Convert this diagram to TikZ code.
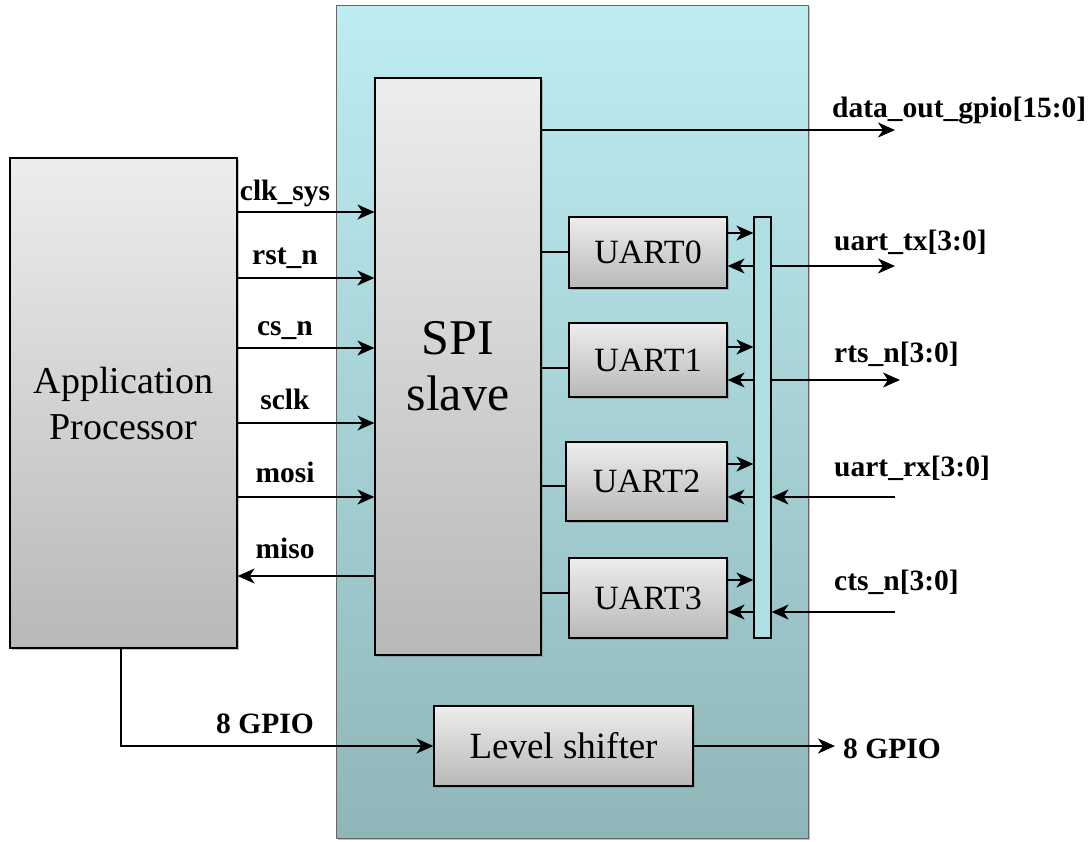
\documentclass[tikz,border=0pt]{standalone}
\usepackage{fontspec}
\setmainfont{Liberation Serif}
\usetikzlibrary{arrows.meta,shadows}
\definecolor{cyTop}{HTML}{BDEDF1}
\definecolor{cyBot}{HTML}{8FB6B9}
\definecolor{gyTop}{HTML}{EDEDED}
\definecolor{gyBot}{HTML}{B8B8B8}
\definecolor{barfill}{HTML}{AEDFE3}
\tikzset{
 blk/.style={draw=black, line width=1.2pt, top color=gyTop, bottom color=gyBot,
   drop shadow={shadow xshift=2pt, shadow yshift=-2pt, opacity=.45, fill=gray},
   inner sep=0pt, align=center},
 sig/.style={line width=1.5pt, -{Stealth[length=17pt,width=15pt,inset=5pt]}},
 wire/.style={line width=1.5pt},
 lbl/.style={font=\fontsize{29.5}{31}\selectfont\bfseries, inner sep=0pt},
}
\begin{document}
\begin{tikzpicture}[x=1pt,y=-1pt]
\useasboundingbox[fill=white] (0,0) rectangle (1091,841);
% background module
\node[draw=gray!80!black, line width=0.8pt, top color=cyTop, bottom color=cyBot,
  minimum width=472pt, minimum height=833pt, inner sep=0pt,
  drop shadow={shadow xshift=2pt, shadow yshift=-2pt, opacity=.5, fill=gray}] (bg) at (572,421.5) {};
% blocks
\node[blk, minimum width=227pt, minimum height=490pt, font=\fontsize{38}{46}\selectfont] (ap) at (123.5,403) {Application\\Processor};
\node[blk, minimum width=166pt, minimum height=577pt, font=\fontsize{50}{56}\selectfont] (spi) at (458,366.5) {SPI\\slave};
\node[blk, minimum width=158pt, minimum height=71pt, font=\fontsize{34}{40}\selectfont] (u0) at (648,252.5) {UART0};
\node[blk, minimum width=158pt, minimum height=74pt, font=\fontsize{34}{40}\selectfont] (u1) at (648,360) {UART1};
\node[blk, minimum width=161pt, minimum height=79pt, font=\fontsize{34}{40}\selectfont] (u2) at (646.5,481.5) {UART2};
\node[blk, minimum width=158pt, minimum height=80pt, font=\fontsize{34}{40}\selectfont] (u3) at (648,598) {UART3};
\node[draw=black, line width=1.2pt, fill=barfill, minimum width=17pt, minimum height=421pt, inner sep=0pt] (bar) at (762.5,427.5) {};
\node[blk, minimum width=259pt, minimum height=80pt, font=\fontsize{37}{42}\selectfont] (ls) at (563.5,746) {Level shifter};
% AP -> SPI signals
\draw[sig] (ap.east |- 0,212) -- (spi.west |- 0,212);
\draw[sig] (ap.east |- 0,278) -- (spi.west |- 0,278);
\draw[sig] (ap.east |- 0,348) -- (spi.west |- 0,348);
\draw[sig] (ap.east |- 0,423) -- (spi.west |- 0,423);
\draw[sig] (ap.east |- 0,497) -- (spi.west |- 0,497);
\draw[sig] (spi.west |- 0,576) -- (ap.east |- 0,576);
\node[lbl, anchor=base] (lclk) at (285,200) {clk\_sys};
\node[lbl, anchor=base] (lrst) at (285,264) {rst\_n};
\node[lbl, anchor=base] (lcs) at (285,335) {cs\_n};
\node[lbl, anchor=base] (lsclk) at (285,409) {sclk};
\node[lbl, anchor=base] (lmosi) at (285,482) {mosi};
\node[lbl, anchor=base] (lmiso) at (285,558) {miso};
% SPI -> UARTs
\draw[wire] (spi.east |- 0,252) -- (u0.west |- 0,252);
\draw[wire] (spi.east |- 0,368) -- (u1.west |- 0,368);
\draw[wire] (spi.east |- 0,486) -- (u2.west |- 0,486);
\draw[wire] (spi.east |- 0,593) -- (u3.west |- 0,593);
% UART <-> bar
\draw[sig] (u0.east |- 0,233) -- (bar.west |- 0,233);
\draw[sig] (bar.west |- 0,266) -- (u0.east |- 0,266);
\draw[sig] (u1.east |- 0,347) -- (bar.west |- 0,347);
\draw[sig] (bar.west |- 0,380) -- (u1.east |- 0,380);
\draw[sig] (u2.east |- 0,464) -- (bar.west |- 0,464);
\draw[sig] (bar.west |- 0,497) -- (u2.east |- 0,497);
\draw[sig] (u3.east |- 0,580) -- (bar.west |- 0,580);
\draw[sig] (bar.west |- 0,612) -- (u3.east |- 0,612);
% external
\coordinate (dout) at (895,130);
\coordinate (txo) at (895,266);
\coordinate (rtso) at (900,380);
\coordinate (rxi) at (895,497);
\coordinate (ctsi) at (895,612);
\coordinate (gpo) at (835,746);
\draw[sig] (spi.east |- dout) -- (dout);
\draw[sig] (bar.east |- txo) -- (txo);
\draw[sig] (bar.east |- rtso) -- (rtso);
\draw[sig] (rxi) -- (bar.east |- rxi);
\draw[sig] (ctsi) -- (bar.east |- ctsi);
\node[lbl, anchor=base west] (ldout) at (832,117) {data\_out\_gpio[15:0]};
\node[lbl, anchor=base west] (ltx) at (834,250) {uart\_tx[3:0]};
\node[lbl, anchor=base west] (lrts) at (834,362) {rts\_n[3:0]};
\node[lbl, anchor=base west] (lrx) at (834,476) {uart\_rx[3:0]};
\node[lbl, anchor=base west] (lcts) at (834,590) {cts\_n[3:0]};
% GPIO path
\draw[sig] (ap.south -| 121,0) |- (ls.west);
\draw[sig] (ls.east) -- (gpo);
\node[lbl, anchor=base] (lg1) at (265,733) {8 GPIO};
\node[lbl, anchor=base west] (lg2) at (843,758) {8 GPIO};
\end{tikzpicture}
\end{document}
